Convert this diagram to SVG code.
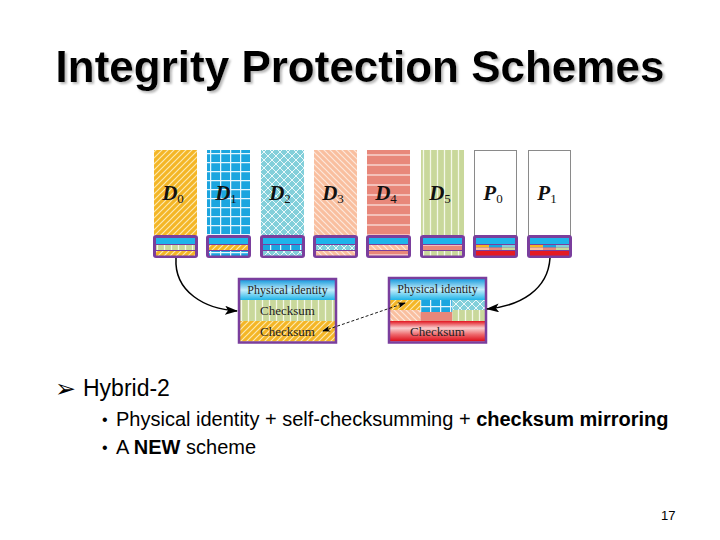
<svg xmlns="http://www.w3.org/2000/svg" width="720" height="540" viewBox="0 0 720 540">
<defs>
<style>
.title{font-family:"Liberation Sans",Arial,sans-serif;font-weight:bold;font-size:44px}
.body{font-family:"Liberation Sans",Arial,sans-serif;fill:#000}
.lbl{font-family:"Liberation Serif","Times New Roman",serif;font-weight:bold;font-style:italic;font-size:21px;fill:#111}
.sub{font-style:normal;font-weight:normal;font-size:13px}
.box{font-family:"Liberation Serif","Times New Roman",serif;fill:#222;text-anchor:middle}
.strip{fill:#7A3E9D}
.cy{fill:#1EB4EA}
.pur{fill:none;stroke:#7A3E9D;stroke-width:2.5}
.col{stroke:none}
.pcol{fill:#fff;stroke:#8a8a8a;stroke-width:1}
.conn{fill:none;stroke:#000;stroke-width:1.5}
.dash{fill:none;stroke:#000;stroke-width:0.9;stroke-dasharray:3 2}
</style>
<filter id="fShadow" x="-5%" y="-20%" width="110%" height="150%">
<feDropShadow dx="2" dy="2" stdDeviation="1" flood-color="#9a9a9a" flood-opacity="0.7"/>
</filter>
<pattern id="pYel" patternUnits="userSpaceOnUse" width="6" height="6">
<rect width="6" height="6" fill="#F4B626"/>
<path d="M0,6 L6,0 M-1,1 L1,-1 M5,7 L7,5" stroke="#FDE9B0" stroke-width="1.2"/>
</pattern>
<pattern id="pPea" patternUnits="userSpaceOnUse" width="6" height="6">
<rect width="6" height="6" fill="#F9BF9F"/>
<path d="M0,0 L6,6 M-1,5 L1,7 M5,-1 L7,1" stroke="#FDE8DC" stroke-width="1.2"/>
</pattern>
<pattern id="pBlu" patternUnits="userSpaceOnUse" width="10" height="9">
<rect width="10" height="9" fill="#1CA5DF"/>
<path d="M0,0.6 H10 M0.6,0 V9" stroke="#E8F6FD" stroke-width="1.3"/>
</pattern>
<pattern id="pLat" patternUnits="userSpaceOnUse" width="8" height="8">
<rect width="8" height="8" fill="#82CFDA"/>
<path d="M0,0 L8,8 M8,0 L0,8" stroke="#EAF8FA" stroke-width="1"/>
</pattern>
<pattern id="pSal" patternUnits="userSpaceOnUse" width="10" height="10">
<rect width="10" height="10" fill="#E8877A"/>
<path d="M0,5 H10" stroke="#FBE0DC" stroke-width="1.3"/>
</pattern>
<pattern id="pGrn" patternUnits="userSpaceOnUse" width="7" height="7">
<rect width="7" height="7" fill="#C9D89B"/>
<path d="M3.5,0 V7" stroke="#F4F8E8" stroke-width="1.3"/>
</pattern>
<linearGradient id="gCy" x1="0" y1="0" x2="0" y2="1">
<stop offset="0" stop-color="#1A9BDD"/>
<stop offset="0.5" stop-color="#C4EEFB"/>
<stop offset="1" stop-color="#20B4E8"/>
</linearGradient>
<linearGradient id="gRed" x1="0" y1="0" x2="0" y2="1">
<stop offset="0" stop-color="#E2151F"/>
<stop offset="0.35" stop-color="#F9D0D0"/>
<stop offset="0.65" stop-color="#EE6A6E"/>
<stop offset="1" stop-color="#DC0A16"/>
</linearGradient>
<marker id="mBig" markerUnits="userSpaceOnUse" markerWidth="14" markerHeight="10" refX="12" refY="4.5" orient="auto">
<path d="M0,0 L13,4.5 L0,9 L3,4.5 z" fill="#000"/>
</marker>
<marker id="mSm" markerUnits="userSpaceOnUse" markerWidth="9" markerHeight="7" refX="7" refY="3" orient="auto-start-reverse">
<path d="M0,0 L8,3 L0,6 L2,3 z" fill="#000"/>
</marker>
</defs>

<rect width="720" height="540" fill="#fff"/>

<g id="title">
<text class="title" x="360" y="82" text-anchor="middle" fill="#000" filter="url(#fShadow)">Integrity Protection Schemes</text>
</g>

<g id="col-D0">
<rect class="col" x="154" y="150" width="43" height="85" fill="url(#pYel)"/>
<text class="lbl" x="173" y="200" text-anchor="middle">D<tspan class="sub" dy="3">0</tspan></text>
<rect class="strip" x="153" y="235" width="45" height="23" rx="3"/>
<rect class="cy" x="156" y="238" width="39" height="6"/>
<rect x="156" y="245" width="39" height="5" fill="url(#pGrn)"/>
<rect x="156" y="251" width="39" height="4.5" fill="url(#pYel)"/>
</g>
<g id="col-D1">
<rect class="col" x="207" y="150" width="43" height="85" fill="url(#pBlu)"/>
<text class="lbl" x="226" y="200" text-anchor="middle">D<tspan class="sub" dy="3">1</tspan></text>
<rect class="strip" x="206" y="235" width="45" height="23" rx="3"/>
<rect class="cy" x="209" y="238" width="39" height="6"/>
<rect x="209" y="245" width="39" height="5" fill="url(#pYel)"/>
<rect x="209" y="251" width="39" height="4.5" fill="url(#pBlu)"/>
</g>
<g id="col-D2">
<rect class="col" x="261" y="150" width="43" height="85" fill="url(#pLat)"/>
<text class="lbl" x="280" y="200" text-anchor="middle">D<tspan class="sub" dy="3">2</tspan></text>
<rect class="strip" x="260" y="235" width="45" height="23" rx="3"/>
<rect class="cy" x="263" y="238" width="39" height="6"/>
<rect x="263" y="245" width="39" height="5" fill="url(#pBlu)"/>
<rect x="263" y="251" width="39" height="4.5" fill="url(#pLat)"/>
</g>
<g id="col-D3">
<rect class="col" x="314" y="150" width="43" height="85" fill="url(#pPea)"/>
<text class="lbl" x="333" y="200" text-anchor="middle">D<tspan class="sub" dy="3">3</tspan></text>
<rect class="strip" x="313" y="235" width="45" height="23" rx="3"/>
<rect class="cy" x="316" y="238" width="39" height="6"/>
<rect x="316" y="245" width="39" height="5" fill="url(#pLat)"/>
<rect x="316" y="251" width="39" height="4.5" fill="url(#pPea)"/>
</g>
<g id="col-D4">
<rect class="col" x="367" y="150" width="43" height="85" fill="url(#pSal)"/>
<text class="lbl" x="386" y="200" text-anchor="middle">D<tspan class="sub" dy="3">4</tspan></text>
<rect class="strip" x="366" y="235" width="45" height="23" rx="3"/>
<rect class="cy" x="369" y="238" width="39" height="6"/>
<rect x="369" y="245" width="39" height="5" fill="url(#pPea)"/>
<rect x="369" y="251" width="39" height="4.5" fill="url(#pSal)"/>
</g>
<g id="col-D5">
<rect class="col" x="421" y="150" width="43" height="85" fill="url(#pGrn)"/>
<text class="lbl" x="440" y="200" text-anchor="middle">D<tspan class="sub" dy="3">5</tspan></text>
<rect class="strip" x="420" y="235" width="45" height="23" rx="3"/>
<rect class="cy" x="423" y="238" width="39" height="6"/>
<rect x="423" y="245" width="39" height="5" fill="url(#pSal)"/>
<rect x="423" y="251" width="39" height="4.5" fill="url(#pGrn)"/>
</g>
<g id="col-P0">
<rect class="pcol" x="474.5" y="150.5" width="42" height="85"/>
<text class="lbl" x="493" y="200" text-anchor="middle">P<tspan class="sub" dy="3">0</tspan></text>
<rect class="strip" x="473" y="235" width="45" height="23" rx="3"/>
<rect class="cy" x="476" y="238" width="39" height="6"/>
<rect x="476" y="245" width="13" height="2.5" fill="#F4B626"/>
<rect x="489" y="245" width="13" height="2.5" fill="#1CA5DF"/>
<rect x="502" y="245" width="13" height="2.5" fill="#82CFDA"/>
<rect x="476" y="247.5" width="13" height="2.5" fill="#F9BF9F"/>
<rect x="489" y="247.5" width="13" height="2.5" fill="#E8877A"/>
<rect x="502" y="247.5" width="13" height="2.5" fill="#C9D89B"/>
<rect x="476" y="251" width="39" height="4.5" fill="#E41A22"/>
</g>
<g id="col-P1">
<rect class="pcol" x="528.5" y="150.5" width="42" height="85"/>
<text class="lbl" x="547" y="200" text-anchor="middle">P<tspan class="sub" dy="3">1</tspan></text>
<rect class="strip" x="527" y="235" width="45" height="23" rx="3"/>
<rect class="cy" x="530" y="238" width="39" height="6"/>
<rect x="530" y="245" width="13" height="2.5" fill="#F4B626"/>
<rect x="543" y="245" width="13" height="2.5" fill="#1CA5DF"/>
<rect x="556" y="245" width="13" height="2.5" fill="#82CFDA"/>
<rect x="530" y="247.5" width="13" height="2.5" fill="#F9BF9F"/>
<rect x="543" y="247.5" width="13" height="2.5" fill="#E8877A"/>
<rect x="556" y="247.5" width="13" height="2.5" fill="#C9D89B"/>
<rect x="530" y="251" width="39" height="4.5" fill="#E41A22"/>
</g>

<g id="box-left">
<rect x="240" y="280" width="95" height="20" fill="url(#gCy)"/>
<rect x="240" y="300" width="95" height="21" fill="url(#pGrn)"/>
<rect x="240" y="321" width="95" height="20.5" fill="url(#pYel)"/>
<rect class="pur" x="239" y="279" width="97" height="63.5"/>
<text class="box" x="287.5" y="294" font-size="12">Physical identity</text>
<text class="box" x="287.5" y="315" font-size="13">Checksum</text>
<text class="box" x="287.5" y="336" font-size="13">Checksum</text>
</g>

<g id="box-right">
<rect x="390" y="279" width="95" height="21" fill="url(#gCy)"/>
<rect x="390" y="300" width="30.5" height="10" fill="url(#pYel)"/>
<rect x="390" y="310" width="30.5" height="11" fill="url(#pPea)"/>
<rect x="420.5" y="300" width="32" height="12" fill="url(#pBlu)"/>
<rect x="420.5" y="312" width="32" height="9" fill="#E8877A"/>
<rect x="452.5" y="300" width="32.5" height="10" fill="url(#pLat)"/>
<rect x="452.5" y="310" width="32.5" height="11" fill="url(#pGrn)"/>
<rect x="390" y="321" width="95" height="20.5" fill="url(#gRed)"/>
<rect class="pur" x="389" y="278" width="97" height="64.5"/>
<text class="box" x="437.5" y="293" font-size="12">Physical identity</text>
<text class="box" x="437.5" y="336" font-size="13">Checksum</text>
</g>

<g id="connectors">
<path class="conn" d="M176,258 C174,292 205,309 237,311" marker-end="url(#mBig)"/>
<path class="conn" d="M550,258 C548,290 520,306 487,309" marker-end="url(#mBig)"/>
<path class="dash" d="M323,331 L405,303" marker-start="url(#mSm)" marker-end="url(#mSm)"/>
</g>

<g id="bullets">
<text class="body" x="55" y="397" font-size="25" font-family="DejaVu Sans,sans-serif">➢</text>
<text class="body" x="83" y="396" font-size="23">Hybrid-2</text>
<text class="body" x="102" y="425" font-size="16">•</text>
<text class="body" x="116" y="426" font-size="20">Physical identity + self-checksumming + <tspan font-weight="bold">checksum mirroring</tspan></text>
<text class="body" x="102" y="453" font-size="16">•</text>
<text class="body" x="116" y="454" font-size="20">A <tspan font-weight="bold">NEW</tspan> scheme</text>
<text class="body" x="661" y="520" font-size="13">17</text>
</g>
</svg>
